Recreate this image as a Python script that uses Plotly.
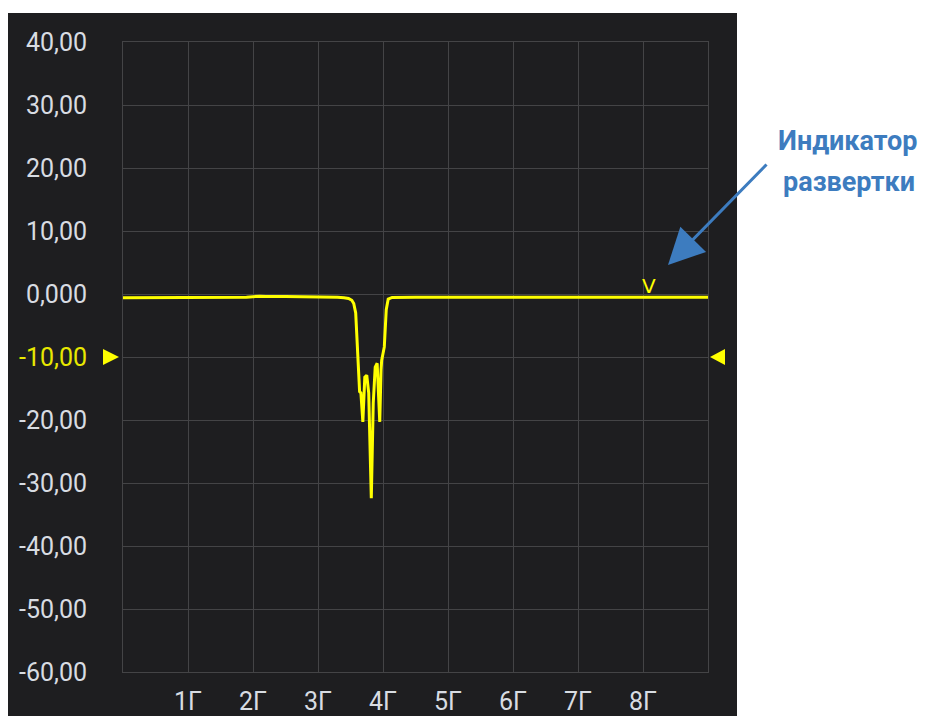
import plotly.graph_objects as go

# ---- data ----
freq_ghz = [0.0, 0.5, 1.0, 1.5, 1.9, 2.1, 2.2, 2.5, 3.0, 3.3, 3.40, 3.47, 3.52, 3.55, 3.58,
            3.60, 3.62, 3.64, 3.66, 3.69, 3.72, 3.75, 3.78, 3.82, 3.85, 3.88, 3.91, 3.92,
            3.95, 3.97, 3.98, 4.02, 4.05, 4.08, 4.14, 4.5, 5.0, 6.0, 7.0, 8.0, 9.0]
s_db = [-0.6, -0.6, -0.6, -0.55, -0.5, -0.35, -0.4, -0.4, -0.4, -0.5, -0.6, -0.7, -1.0, -1.5, -3.0,
        -6.8, -12.0, -15.5, -15.7, -20.3, -13.2, -12.9, -15.7, -32.4, -17.3, -11.6, -11.0, -13.7,
        -20.3, -12.0, -10.5, -8.4, -2.5, -0.8, -0.55, -0.5, -0.5, -0.5, -0.5, -0.5, -0.5]

y_ticks = [40, 30, 20, 10, 0, -10, -20, -30, -40, -50, -60]
y_ticklabels = ["40,00", "30,00", "20,00", "10,00", "0,000", "-10,00", "-20,00",
                "-30,00", "-40,00", "-50,00", "-60,00"]
x_ticks = [1, 2, 3, 4, 5, 6, 7, 8]
x_ticklabels = ["1Г", "2Г", "3Г", "4Г", "5Г", "6Г", "7Г", "8Г"]

ref_level = -10
sweep_pos = 8.09
sweep_level = -0.5

BG = "#1e1e20"
GRID = "#444446"
LABEL = "#d8dce2"
YELLOW = "#ffff00"
BLUE = "#3d7cbf"

OFF = 8  # page body margin
W, H = 921, 708
L, R, T, B = 115, 221, 34, 44
pw, ph = W - L - R, H - T - B

def px(x):  # page pixel -> paper x
    return (x - OFF - L) / pw

def py(y):  # page pixel -> paper y
    return (H - B - (y - OFF)) / ph

ticktext = []
for v, t in zip(y_ticks, y_ticklabels):
    if v == ref_level:
        ticktext.append(f"<span style='color:#e8e800'>{t}</span>")
    else:
        ticktext.append(t)

fig = go.Figure()
fig.add_trace(go.Scatter(x=freq_ghz, y=s_db, mode="lines",
                         line=dict(color=YELLOW, width=3), hoverinfo="skip",
                         showlegend=False))

# reference-level triangles
hh = 8 / (ph / 100)  # half height in dB
fig.add_shape(type="path", xref="paper", yref="y", layer="above",
              path=f"M {px(103)},{ref_level + hh} L {px(119)},{ref_level} L {px(103)},{ref_level - hh} Z",
              fillcolor=YELLOW, line=dict(width=0))
fig.add_shape(type="path", xref="paper", yref="y", layer="above",
              path=f"M {px(725)},{ref_level + hh} L {px(710)},{ref_level} L {px(725)},{ref_level - hh} Z",
              fillcolor=YELLOW, line=dict(width=0))

fig.add_annotation(x=sweep_pos, y=sweep_level, xref="x", yref="y", text="V",
                   showarrow=False, xanchor="center", yanchor="bottom", yshift=-3,
                   font=dict(family="DejaVu Sans", size=20, color=YELLOW))

# dark panel
fig.add_shape(type="rect", xref="paper", yref="paper", layer="below",
              x0=px(8), x1=px(737), y0=py(730), y1=py(13),
              fillcolor=BG, line=dict(width=0))

# annotation text and arrow
fig.add_annotation(xref="paper", yref="paper", x=px(848), y=py(141), text="<b>Индикатор</b>",
                   showarrow=False, xanchor="center", yanchor="middle",
                   font=dict(family="Roboto", size=27, color=BLUE))
fig.add_annotation(xref="paper", yref="paper", x=px(849), y=py(182), text="<b>развертки</b>",
                   showarrow=False, xanchor="center", yanchor="middle",
                   font=dict(family="Roboto", size=27, color=BLUE))
fig.add_annotation(xref="paper", yref="paper", x=px(668), y=py(265), text="",
                   showarrow=True, ax=100, ay=-102, arrowhead=2, arrowsize=2.4,
                   arrowwidth=3, arrowcolor=BLUE)

fig.update_layout(
    width=W, height=H,
    margin=dict(l=L, r=R, t=T, b=B, autoexpand=False),
    paper_bgcolor="white", plot_bgcolor=BG,
    font=dict(family="Roboto", size=26, color=LABEL),
    xaxis=dict(range=[0, 9], tickvals=x_ticks, ticktext=x_ticklabels,
               showgrid=True, gridcolor=GRID, gridwidth=1, zeroline=False,
               showline=True, linecolor=GRID, linewidth=1, mirror=True,
               ticks="", ticklabelstandoff=7, fixedrange=True, automargin=False,
               tickfont=dict(family="Roboto", size=25, color=LABEL)),
    yaxis=dict(range=[-60, 40], tickvals=y_ticks, ticktext=ticktext,
               showgrid=True, gridcolor=GRID, gridwidth=1, zeroline=False,
               showline=True, linecolor=GRID, linewidth=1, mirror=True,
               ticks="", ticklabelstandoff=30, fixedrange=True, automargin=False,
               tickfont=dict(family="Roboto", size=25, color=LABEL)),
)

fig.write_html("out.html")
